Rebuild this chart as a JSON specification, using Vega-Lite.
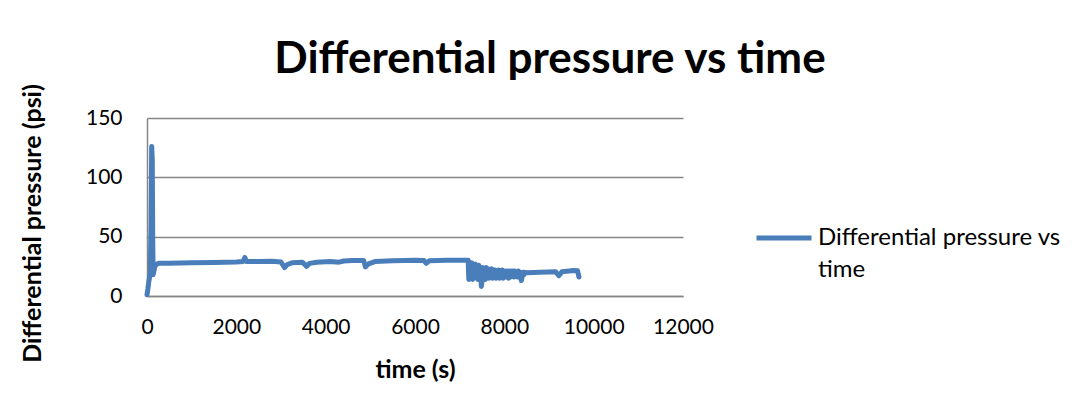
{
  "$schema": "https://vega.github.io/schema/vega-lite/v6.json",
  "autosize": "none",
  "width": 536,
  "height": 178,
  "padding": {"left": 147, "top": 118, "right": 408, "bottom": 120},
  "background": "white",
  "config": {
    "view": {"stroke": null},
    "font": "Lato",
    "axis": {"labelFont": "Lato", "titleFont": "Lato", "labelColor": "#000000", "titleColor": "#000000"},
    "style": {"guide-label": {"lineHeight": 32}}
  },
  "title": {
    "text": "Differential pressure vs time",
    "font": "Lato",
    "fontSize": 44,
    "fontWeight": "bold",
    "color": "#000000",
    "anchor": "middle",
    "baseline": "bottom",
    "dx": 135,
    "offset": -42
  },
  "data": {
    "values": [
      {"series": "Differential pressure vs time", "t": 0, "p": 1},
      {"series": "Differential pressure vs time", "t": 20, "p": 6},
      {"series": "Differential pressure vs time", "t": 40, "p": 12},
      {"series": "Differential pressure vs time", "t": 60, "p": 16},
      {"series": "Differential pressure vs time", "t": 75, "p": 20},
      {"series": "Differential pressure vs time", "t": 90, "p": 60},
      {"series": "Differential pressure vs time", "t": 105, "p": 126},
      {"series": "Differential pressure vs time", "t": 118, "p": 115},
      {"series": "Differential pressure vs time", "t": 128, "p": 50},
      {"series": "Differential pressure vs time", "t": 138, "p": 18},
      {"series": "Differential pressure vs time", "t": 150, "p": 20},
      {"series": "Differential pressure vs time", "t": 170, "p": 24},
      {"series": "Differential pressure vs time", "t": 200, "p": 26.5},
      {"series": "Differential pressure vs time", "t": 260, "p": 27.5},
      {"series": "Differential pressure vs time", "t": 500, "p": 27.6},
      {"series": "Differential pressure vs time", "t": 1000, "p": 28},
      {"series": "Differential pressure vs time", "t": 1500, "p": 28.3},
      {"series": "Differential pressure vs time", "t": 2000, "p": 28.7},
      {"series": "Differential pressure vs time", "t": 2150, "p": 29},
      {"series": "Differential pressure vs time", "t": 2190, "p": 32.5},
      {"series": "Differential pressure vs time", "t": 2230, "p": 29},
      {"series": "Differential pressure vs time", "t": 2500, "p": 29},
      {"series": "Differential pressure vs time", "t": 2800, "p": 29.2},
      {"series": "Differential pressure vs time", "t": 3000, "p": 28.6},
      {"series": "Differential pressure vs time", "t": 3080, "p": 24},
      {"series": "Differential pressure vs time", "t": 3140, "p": 26.5},
      {"series": "Differential pressure vs time", "t": 3250, "p": 28},
      {"series": "Differential pressure vs time", "t": 3480, "p": 28.5},
      {"series": "Differential pressure vs time", "t": 3570, "p": 25},
      {"series": "Differential pressure vs time", "t": 3640, "p": 27.5},
      {"series": "Differential pressure vs time", "t": 3800, "p": 28.5},
      {"series": "Differential pressure vs time", "t": 4100, "p": 29},
      {"series": "Differential pressure vs time", "t": 4300, "p": 28.5},
      {"series": "Differential pressure vs time", "t": 4400, "p": 29.5},
      {"series": "Differential pressure vs time", "t": 4600, "p": 30},
      {"series": "Differential pressure vs time", "t": 4850, "p": 30},
      {"series": "Differential pressure vs time", "t": 4890, "p": 24.5},
      {"series": "Differential pressure vs time", "t": 4960, "p": 27},
      {"series": "Differential pressure vs time", "t": 5100, "p": 29},
      {"series": "Differential pressure vs time", "t": 5500, "p": 29.8},
      {"series": "Differential pressure vs time", "t": 6000, "p": 30.2},
      {"series": "Differential pressure vs time", "t": 6200, "p": 30},
      {"series": "Differential pressure vs time", "t": 6250, "p": 27.5},
      {"series": "Differential pressure vs time", "t": 6320, "p": 29.8},
      {"series": "Differential pressure vs time", "t": 6700, "p": 30.2},
      {"series": "Differential pressure vs time", "t": 7190, "p": 30.2},
      {"series": "Differential pressure vs time", "t": 7205, "p": 14},
      {"series": "Differential pressure vs time", "t": 7230, "p": 27},
      {"series": "Differential pressure vs time", "t": 7250, "p": 15},
      {"series": "Differential pressure vs time", "t": 7270, "p": 28},
      {"series": "Differential pressure vs time", "t": 7290, "p": 14},
      {"series": "Differential pressure vs time", "t": 7310, "p": 26},
      {"series": "Differential pressure vs time", "t": 7330, "p": 16},
      {"series": "Differential pressure vs time", "t": 7350, "p": 27},
      {"series": "Differential pressure vs time", "t": 7370, "p": 15},
      {"series": "Differential pressure vs time", "t": 7390, "p": 25},
      {"series": "Differential pressure vs time", "t": 7410, "p": 14},
      {"series": "Differential pressure vs time", "t": 7430, "p": 26},
      {"series": "Differential pressure vs time", "t": 7450, "p": 16},
      {"series": "Differential pressure vs time", "t": 7470, "p": 22},
      {"series": "Differential pressure vs time", "t": 7485, "p": 8},
      {"series": "Differential pressure vs time", "t": 7500, "p": 12},
      {"series": "Differential pressure vs time", "t": 7515, "p": 24},
      {"series": "Differential pressure vs time", "t": 7535, "p": 15},
      {"series": "Differential pressure vs time", "t": 7555, "p": 23},
      {"series": "Differential pressure vs time", "t": 7575, "p": 14},
      {"series": "Differential pressure vs time", "t": 7595, "p": 24},
      {"series": "Differential pressure vs time", "t": 7615, "p": 16},
      {"series": "Differential pressure vs time", "t": 7635, "p": 23},
      {"series": "Differential pressure vs time", "t": 7655, "p": 15},
      {"series": "Differential pressure vs time", "t": 7675, "p": 22},
      {"series": "Differential pressure vs time", "t": 7695, "p": 16},
      {"series": "Differential pressure vs time", "t": 7715, "p": 23},
      {"series": "Differential pressure vs time", "t": 7735, "p": 15},
      {"series": "Differential pressure vs time", "t": 7755, "p": 22},
      {"series": "Differential pressure vs time", "t": 7775, "p": 16},
      {"series": "Differential pressure vs time", "t": 7795, "p": 22},
      {"series": "Differential pressure vs time", "t": 7815, "p": 15},
      {"series": "Differential pressure vs time", "t": 7835, "p": 21},
      {"series": "Differential pressure vs time", "t": 7855, "p": 16},
      {"series": "Differential pressure vs time", "t": 7875, "p": 22},
      {"series": "Differential pressure vs time", "t": 7895, "p": 15},
      {"series": "Differential pressure vs time", "t": 7915, "p": 21},
      {"series": "Differential pressure vs time", "t": 7935, "p": 16},
      {"series": "Differential pressure vs time", "t": 7955, "p": 22},
      {"series": "Differential pressure vs time", "t": 7975, "p": 15},
      {"series": "Differential pressure vs time", "t": 7995, "p": 21},
      {"series": "Differential pressure vs time", "t": 8015, "p": 16},
      {"series": "Differential pressure vs time", "t": 8035, "p": 21},
      {"series": "Differential pressure vs time", "t": 8055, "p": 16},
      {"series": "Differential pressure vs time", "t": 8075, "p": 21},
      {"series": "Differential pressure vs time", "t": 8095, "p": 15},
      {"series": "Differential pressure vs time", "t": 8115, "p": 21},
      {"series": "Differential pressure vs time", "t": 8135, "p": 16},
      {"series": "Differential pressure vs time", "t": 8155, "p": 21},
      {"series": "Differential pressure vs time", "t": 8175, "p": 17},
      {"series": "Differential pressure vs time", "t": 8195, "p": 21},
      {"series": "Differential pressure vs time", "t": 8215, "p": 16},
      {"series": "Differential pressure vs time", "t": 8235, "p": 21},
      {"series": "Differential pressure vs time", "t": 8255, "p": 17},
      {"series": "Differential pressure vs time", "t": 8275, "p": 20},
      {"series": "Differential pressure vs time", "t": 8295, "p": 16},
      {"series": "Differential pressure vs time", "t": 8315, "p": 21},
      {"series": "Differential pressure vs time", "t": 8335, "p": 17},
      {"series": "Differential pressure vs time", "t": 8355, "p": 20},
      {"series": "Differential pressure vs time", "t": 8380, "p": 13},
      {"series": "Differential pressure vs time", "t": 8400, "p": 16},
      {"series": "Differential pressure vs time", "t": 8420, "p": 20},
      {"series": "Differential pressure vs time", "t": 8440, "p": 18},
      {"series": "Differential pressure vs time", "t": 8460, "p": 20},
      {"series": "Differential pressure vs time", "t": 8500, "p": 19.5},
      {"series": "Differential pressure vs time", "t": 8800, "p": 20},
      {"series": "Differential pressure vs time", "t": 9150, "p": 20.5},
      {"series": "Differential pressure vs time", "t": 9220, "p": 17},
      {"series": "Differential pressure vs time", "t": 9290, "p": 20.5},
      {"series": "Differential pressure vs time", "t": 9550, "p": 21.5},
      {"series": "Differential pressure vs time", "t": 9640, "p": 21.2},
      {"series": "Differential pressure vs time", "t": 9670, "p": 16}
    ]
  },
  "mark": {"type": "line", "strokeWidth": 5, "strokeCap": "round", "strokeJoin": "round"},
  "encoding": {
    "x": {
      "field": "t",
      "type": "quantitative",
      "scale": {"domain": [0, 12000], "nice": false, "zero": false},
      "axis": {
        "title": "time (s)",
        "values": [0, 2000, 4000, 6000, 8000, 10000, 12000],
        "format": "d",
        "grid": false,
        "ticks": false,
        "domainColor": "#868686",
        "domainWidth": 1.5,
        "labelFontSize": 21,
        "labelPadding": 20,
        "labelFlush": false,
        "labelOverlap": false,
        "titleFontSize": 25,
        "titleFontWeight": "bold",
        "titleBaseline": "top",
        "titleY": 61
      }
    },
    "y": {
      "field": "p",
      "type": "quantitative",
      "scale": {"domain": [0, 150], "nice": false},
      "axis": {
        "title": "Differential pressure (psi)",
        "values": [0, 50, 100, 150],
        "grid": true,
        "gridColor": "#868686",
        "gridWidth": 1.5,
        "ticks": false,
        "domainColor": "#868686",
        "domainWidth": 1.5,
        "labelFontSize": 21,
        "labelPadding": 25,
        "labelFlush": false,
        "labelOverlap": false,
        "titleFontSize": 25,
        "titleFontWeight": "bold",
        "titleAngle": -90,
        "titleAlign": "center",
        "titleBaseline": "middle",
        "titleX": -115,
        "titleY": 105
      }
    },
    "color": {
      "field": "series",
      "type": "nominal",
      "scale": {"range": ["#4A7EBB"]},
      "legend": {
        "title": null,
        "orient": "none",
        "legendX": 607,
        "legendY": 90,
        "padding": 0,
        "symbolType": "stroke",
        "symbolSize": 3025,
        "symbolStrokeWidth": 5,
        "labelFont": "Lato",
        "labelFontSize": 24,
        "labelColor": "#000000",
        "labelOffset": 4,
        "labelLimit": 400,
        "labelBaseline": "middle",
        "labelExpr": "['Differential pressure vs', 'time']"
      }
    }
  }
}
